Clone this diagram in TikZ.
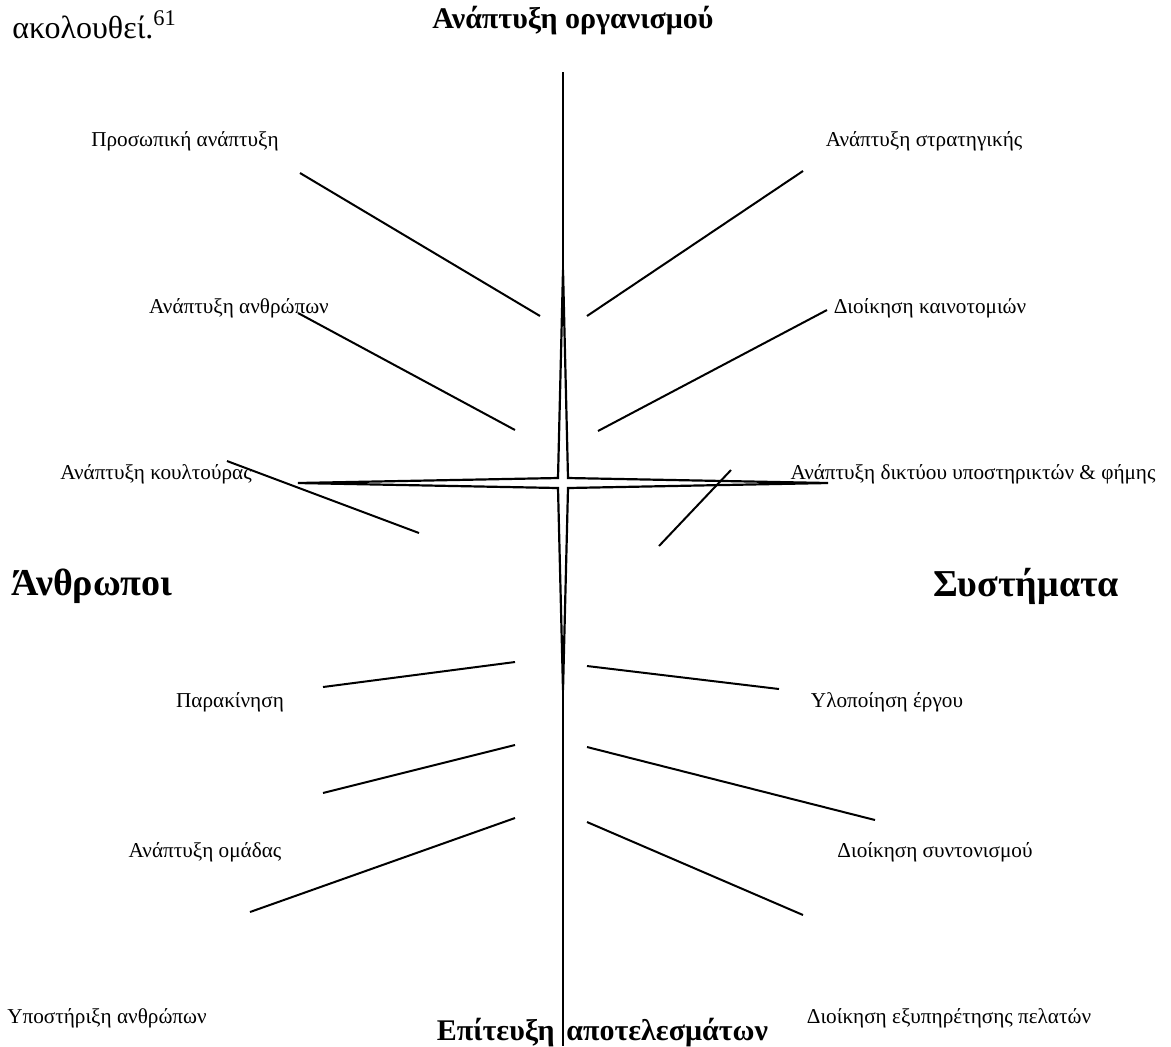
\documentclass[tikz,border=0pt]{standalone}
\usepackage{fontspec}
\setmainfont{Liberation Serif}
\usepackage{tikz}
\usetikzlibrary{positioning, calc}
\definecolor{mydark}{RGB}{0,0,0}
\tikzset{
  lbl/.style={inner sep=0pt, font=\fontsize{10.6}{13}\selectfont},
  hdr/.style={inner sep=0pt, font=\fontsize{15}{18}\selectfont\bfseries},
  side/.style={inner sep=0pt, font=\fontsize{19}{23}\selectfont\bfseries},
  spoke/.style={line width=1pt, color=mydark},
  axis/.style={line width=1pt, color=mydark}
}

\begin{document}
\begin{tikzpicture}[x=0.5pt, y=-0.5pt]
  \useasboundingbox (0,0) rectangle (1171,1046);

  % --- Heading ---
  \node[inner sep=0pt, anchor=base west, font=\fontsize{16}{19}\selectfont] (prev) at (12,38) {ακολουθεί.\textsuperscript{61}};
  \node[hdr, anchor=base west] (top) at (432,28) {Ανάπτυξη οργανισμού};
  \node[hdr, anchor=base east] (botL) at (555,1040) {Επίτευξη};
  \node[hdr, anchor=base west] (botR) at (566,1040) {αποτελεσμάτων};
  \node[side] (ppl) at (92,586) {Άνθρωποι};
  \node[side] (sys) at (1026,586) {Συστήματα};

  % --- Axis and star ---
  \coordinate (axtop) at (563,72);
  \coordinate (axbot) at (563,1046);
  \draw[axis] (axtop) -- (axbot);
  \coordinate (c) at (563,483);
  \draw[line width=1.1pt, fill=white]
    (563,270) -- (568,478) -- (828,483) -- (568,488) -- (563,690)
    -- (558,488) -- (298,483) -- (558,478) -- cycle;

  % --- Labels, upper half ---
  \node[lbl] (L1) at (185,141) {Προσωπική ανάπτυξη};
  \node[lbl] (L2) at (239,308) {Ανάπτυξη ανθρώπων};
  \node[lbl] (L3) at (156,474) {Ανάπτυξη κουλτούρας};
  \node[lbl] (R1) at (924,141) {Ανάπτυξη στρατηγικής};
  \node[lbl] (R2) at (930,308) {Διοίκηση καινοτομιών};
  \node[lbl] (R3) at (973,474) {Ανάπτυξη δικτύου υποστηρικτών \& φήμης};

  % --- Labels, lower half ---
  \node[lbl] (L4) at (230,702) {Παρακίνηση};
  \node[lbl] (L5) at (205,852) {Ανάπτυξη ομάδας};
  \node[lbl] (L6) at (107,1018) {Υποστήριξη ανθρώπων};
  \node[lbl] (R4) at (887,702) {Υλοποίηση έργου};
  \node[lbl] (R5) at (935,852) {Διοίκηση συντονισμού};
  \node[lbl] (R6) at (949,1018) {Διοίκηση εξυπηρέτησης πελατών};

  % --- Spokes, left ---
  \coordinate (l1a) at (300,173); \coordinate (l1b) at (540,316);
  \coordinate (l2a) at (298,313); \coordinate (l2b) at (515,430);
  \coordinate (l3a) at (227,461); \coordinate (l3b) at (419,533);
  \coordinate (l4a) at (323,687); \coordinate (l4b) at (515,662);
  \coordinate (l5a) at (323,793); \coordinate (l5b) at (515,745);
  \coordinate (l6a) at (250,912); \coordinate (l6b) at (515,818);
  \foreach \s in {1,...,6}
    \draw[spoke] (l\s a) -- (l\s b);

  % --- Spokes, right ---
  \coordinate (r1a) at (803,171); \coordinate (r1b) at (587,316);
  \coordinate (r2a) at (827,310); \coordinate (r2b) at (598,431);
  \coordinate (r3a) at (731,470); \coordinate (r3b) at (659,546);
  \coordinate (r4a) at (779,689); \coordinate (r4b) at (587,666);
  \coordinate (r5a) at (875,820); \coordinate (r5b) at (587,747);
  \coordinate (r6a) at (803,915); \coordinate (r6b) at (587,822);
  \foreach \s in {1,...,6}
    \draw[spoke] (r\s a) -- (r\s b);
\end{tikzpicture}
\end{document}
